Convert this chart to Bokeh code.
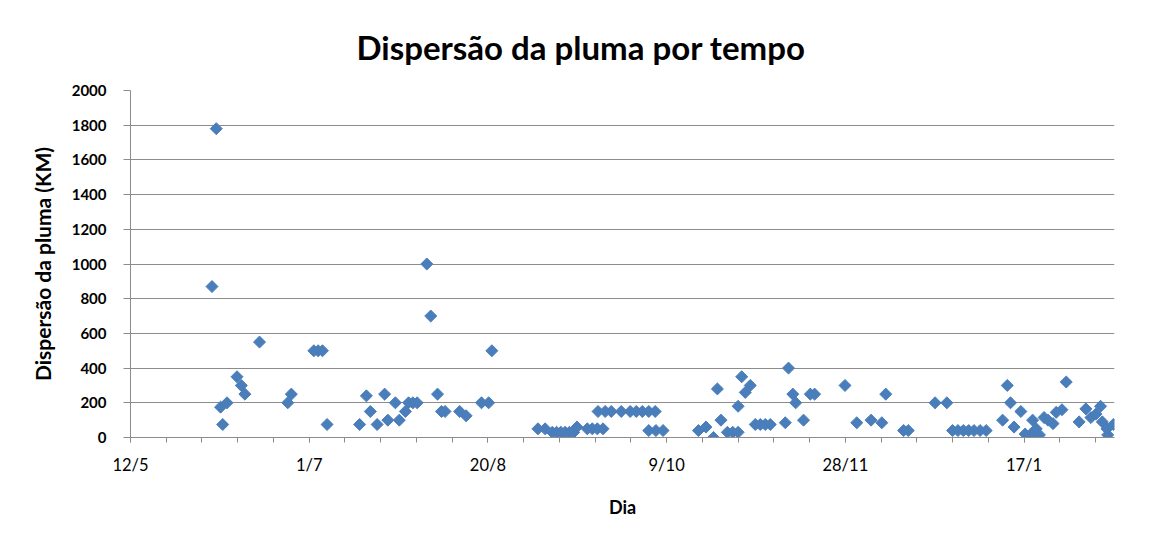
import math
from bokeh.plotting import figure
from bokeh.models import FixedTicker, Range1d
from bokeh.embed import file_html
from bokeh.resources import INLINE

# days counted from 12/5 (x) and plume dispersion in km (y)
dias = [22.8, 24.0, 25.2, 25.8, 27.0, 29.8, 31.0, 32.0, 36.1, 44.0, 45.0, 51.3, 52.5, 53.7,
        55.0, 64.1, 66.0, 67.1, 69.0, 71.1, 72.0, 74.1, 75.2, 76.9, 77.8, 79.0, 80.2, 82.9,
        84.0, 85.9, 87.0, 88.0, 92.1, 93.9, 98.2, 100.2, 101.1, 114.0, 116.0, 118.0, 119.2,
        120.4, 121.6, 122.8, 124.0, 124.9, 127.8, 129.2, 130.6, 132.2, 130.8, 132.8, 134.5,
        137.3, 139.8, 141.5, 143.2, 145.0, 146.8, 145.0, 147.0, 149.0, 158.9, 161.0, 163.1,
        164.2, 165.2, 167.0, 168.5, 170.0, 170.0, 171.0, 172.0, 173.4, 174.8, 176.2, 177.6,
        179.0, 183.2, 184.1, 185.3, 186.1, 188.3, 190.2, 191.4, 199.9, 203.2, 207.2, 210.2,
        211.3, 216.3, 217.6, 225.1, 228.4, 230.0, 231.5, 233.0, 234.5, 236.0, 237.7, 239.4,
        244.0, 245.3, 246.2, 247.2, 249.1, 250.3, 251.9, 252.4, 253.4, 254.3, 255.6, 256.7,
        258.1, 259.0, 260.6, 261.8, 265.4, 267.3, 268.7, 270.1, 271.4, 271.9, 273.2, 273.4,
        275.0]
dispersao = [870, 1780, 175, 75, 200, 350, 300, 250, 550, 200, 250, 500, 500, 500,
             75, 75, 240, 150, 75, 250, 100, 200, 100, 150, 200, 200, 200, 1000,
             700, 250, 150, 150, 150, 125, 200, 200, 500, 50, 50, 30, 30,
             30, 30, 30, 30, 60, 50, 50, 50, 50, 150, 150, 150,
             150, 150, 150, 150, 150, 150, 40, 40, 40, 40, 60, 0,
             280, 100, 30, 30, 30, 180, 350, 260, 300, 75, 75, 75,
             75, 85, 400, 250, 200, 100, 250, 250, 300, 85, 100, 85,
             250, 40, 40, 200, 200, 40, 40, 40, 40, 40, 40, 40,
             100, 300, 200, 60, 150, 20, 20, 100, 50, 15, 115, 100,
             80, 145, 160, 320, 90, 165, 115, 135, 180, 90, 50, 15,
             75]

tick_dias = [0, 50, 100, 150, 200, 250]
tick_rotulos = ["12/5", "1/7", "20/8", "9/10", "28/11", "17/1"]
minor_dias = list(range(0, 280, 10))
y_ticks = list(range(0, 2001, 200))

FONT = "Lato"
GRID = "#8c8c8c"

p = figure(width=1136, height=525, output_backend="svg", toolbar_location=None,
           x_range=Range1d(0, 275.3), y_range=Range1d(0, 2000),
           min_border_left=130, min_border_right=22, min_border_top=90,
           min_border_bottom=88, background_fill_color="white",
           border_fill_color="white")
p.outline_line_color = None

p.title.text = "Dispersão da pluma por tempo"
p.title.text_font = FONT
p.title.text_font_size = "33px"
p.title.text_font_style = "bold"
p.title.text_color = "black"
p.title.align = "left"
p.title.offset = 226
p.title.standoff = 47

p.scatter(dias, dispersao, marker="square", size=8.5, angle=math.pi / 4,
          fill_color="#4a7ebb", line_color="#4a7ebb", line_width=1)

# x axis
p.xaxis.ticker = FixedTicker(ticks=tick_dias, minor_ticks=minor_dias)
p.xaxis.major_label_overrides = {d: r for d, r in zip(tick_dias, tick_rotulos)}
p.xaxis.axis_label = "Dia"
p.xaxis.axis_label_text_font = FONT
p.xaxis.axis_label_text_font_size = "18px"
p.xaxis.axis_label_text_font_style = "bold"
p.xaxis.axis_label_standoff = 18
p.xaxis.major_label_text_font = FONT
p.xaxis.major_label_text_font_size = "16.5px"
p.xaxis.major_label_standoff = 12
p.xaxis.major_tick_out = 5
p.xaxis.major_tick_in = 0
p.xaxis.minor_tick_out = 5
p.xaxis.minor_tick_in = 0

# y axis
p.yaxis.ticker = FixedTicker(ticks=y_ticks)
p.yaxis.axis_label = "Dispersão da pluma (KM)"
p.yaxis.axis_label_text_font = FONT
p.yaxis.axis_label_text_font_size = "21px"
p.yaxis.axis_label_text_font_style = "bold"
p.yaxis.axis_label_standoff = 14
p.yaxis.major_label_text_font = FONT
p.yaxis.major_label_text_font_size = "15px"
p.yaxis.major_label_text_font_style = "bold"
p.yaxis.major_label_standoff = 17
p.yaxis.major_tick_out = 7
p.yaxis.major_tick_in = 0
p.yaxis.minor_tick_line_color = None

for ax in (p.xaxis, p.yaxis):
    ax.axis_line_color = GRID
    ax.major_tick_line_color = GRID
    ax.major_label_text_color = "black"
    ax.axis_label_text_color = "black"
p.xaxis.minor_tick_line_color = GRID

p.xgrid.grid_line_color = None
p.ygrid.grid_line_color = GRID
p.ygrid.grid_line_width = 1

open("out.html", "w").write(file_html(p, INLINE))
